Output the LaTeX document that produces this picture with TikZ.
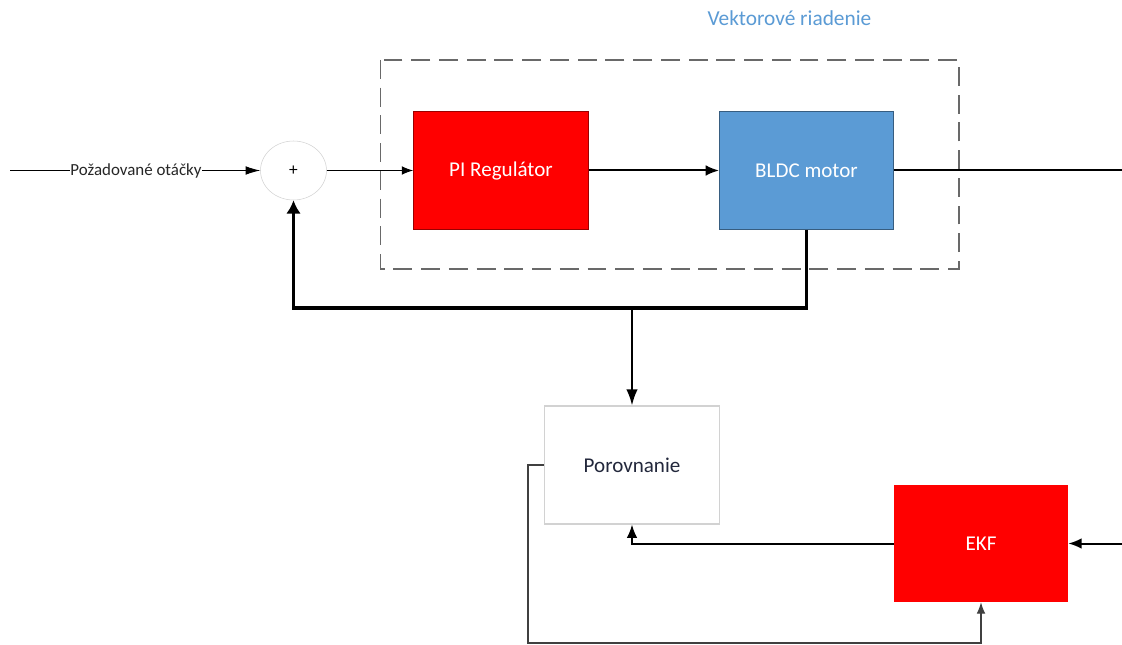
\documentclass[tikz,border=0pt]{standalone}
\usepackage{fontspec}
\setmainfont{Carlito}
\usetikzlibrary{arrows.meta,shapes.geometric}
\definecolor{bluebox}{RGB}{91,155,213}
\definecolor{dashgray}{RGB}{105,105,105}
\definecolor{paleedge}{RGB}{210,210,210}
\definecolor{titleblue}{RGB}{91,155,213}
\definecolor{inktext}{RGB}{35,40,60}
\tikzset{x=0.75pt,y=-0.75pt,
  redbox/.style={draw=none,fill=red,text=white,minimum width=175*0.75pt,minimum height=118*0.75pt,inner sep=0pt,font=\fontsize{15.8}{18}\selectfont},
  wire/.style={draw=black,line width=0.7pt,-{Latex[length=8.5pt,width=6.5pt]}},
  medwire/.style={draw=black,line width=1.5pt,-{Latex[length=10pt,width=8pt]}},
  thickwire/.style={draw=black,line width=2.7pt,-{Latex[length=10pt,width=11pt]}}}
\begin{document}
\begin{tikzpicture}
\useasboundingbox (0,0) rectangle (1122,645);
\fill[white] (0,0) rectangle (1122,645);
\node[text=titleblue,font=\fontsize{16}{18}\selectfont] (title) at (789.5,18) {Vektorové riadenie};
\draw[dashgray,line width=1.4pt,dash pattern=on 14.2pt off 6.6pt] (380.5,60) rectangle (959,269);
\node[redbox,draw=red!60!black,line width=0.5pt] (pi) at (501,170.5) {PI Regulátor};
\node[redbox,fill=bluebox,draw=bluebox!60!black,line width=0.7pt,minimum width=174*0.75pt] (bldc) at (806.5,170.5) {BLDC motor};
\node[ellipse,draw=paleedge,fill=white,minimum width=66*0.75pt,minimum height=59*0.75pt,inner sep=0pt,font=\fontsize{13}{15}\selectfont] (sum) at (293.5,170.5) {+};
\node[redbox,fill=white,draw=paleedge,text=inktext,line width=0.8pt] (cmp) at (632,465) {Porovnanie};
\node[redbox,minimum width=174*0.75pt,minimum height=117*0.75pt] (ekf) at (981,543.5) {EKF};
\coordinate (start) at (10,170.5);
\coordinate (rightin) at (1140,170.5);
\coordinate (rightout) at (1140,543.5);
\coordinate (bus) at (632,308);
\coordinate (bend) at (528,643);
% connectors
\draw[wire,-{Latex[length=11pt,width=6.5pt]}] (start) -- (sum.west);
\node[fill=white,inner sep=0.3pt,font=\fontsize{12.7}{14}\selectfont,text=black!85] (req) at (136,170.5) {Požadované otáčky};
\draw[wire] (sum.east) -- (pi.west);
\draw[medwire] (pi.east) -- (bldc.west);
\draw[draw=black,line width=1.5pt] (bldc.east) -- (rightin) -- (rightout);
\draw[medwire] (rightout) -- (ekf.east);
\draw[thickwire] (bldc.south) |- (bus) -| (sum.south);
\draw[medwire,-{Latex[length=12pt,width=8.5pt]}] (bus) -- (cmp.north);
\draw[medwire] (ekf.west) -| (cmp.south);
\draw[wire,draw=black!75,line width=0.8pt] (cmp.west) -| (bend) -| (ekf.south);
\end{tikzpicture}
\end{document}
